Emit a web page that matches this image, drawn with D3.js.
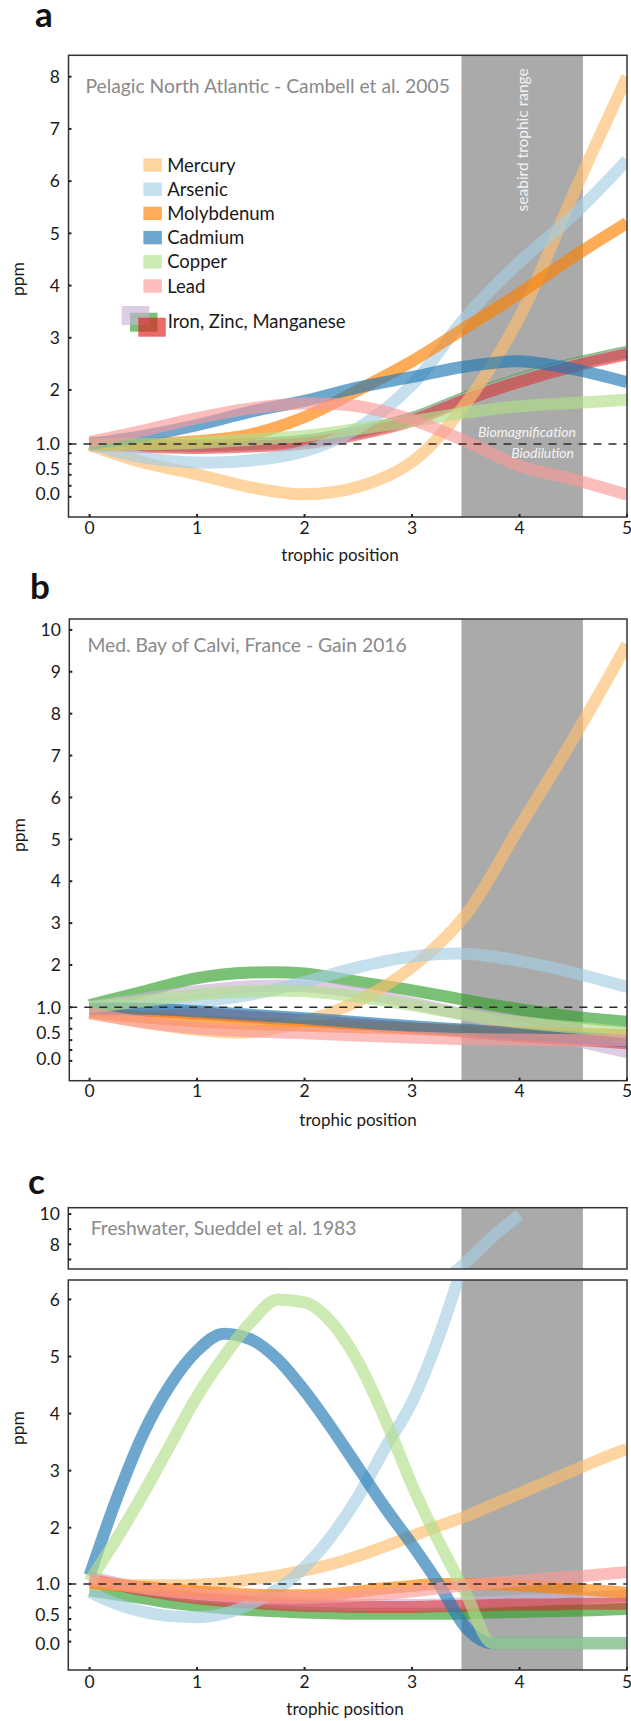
<!DOCTYPE html>
<html>
<head>
<meta charset="utf-8">
<script src="https://cdn.jsdelivr.net/npm/d3@7"></script>
<style>
  body { margin: 0; background: #fff; }
  svg text { font-family: Lato, "Open Sans", sans-serif; }
</style>
</head>
<body>
<svg id="chart" width="631" height="1721"></svg>
<script>
// ---------- data ----------
const metals = ["Mercury", "Arsenic", "Molybdenum", "Cadmium", "Copper", "Lead", "Iron", "Zinc", "Manganese"];
const metalColors = ["#fdbf6f", "#a6cee3", "#ff7f00", "#1f78b4", "#b2df8a", "#fb9a99", "#cab2d6", "#33a02c", "#e31a1c"];
const lineOpacity = [0.65, 0.65, 0.65, 0.65, 0.65, 0.65, 0.65, 0.65, 0.5];
const legendMetals = ["Mercury", "Arsenic", "Molybdenum", "Cadmium", "Copper", "Lead"];
const groupedSwatchOrder = ["Zinc", "Iron", "Manganese"];
const groupedSwatchOffsets = [[8.3, 6.7], [0, 0], [16.6, 11.7]];
const groupedLabel = "Iron, Zinc, Manganese";
// drawing order (grouped metals sit underneath)
const drawOrder = ["Zinc", "Iron", "Manganese", "Mercury", "Arsenic", "Molybdenum", "Cadmium", "Copper", "Lead"];

const xTicks = [0, 1, 2, 3, 4, 5];
const seabirdRange = [3.46, 4.59];

// trophic positions sampled
const tHalf = [0, 0.5, 1, 1.5, 2, 2.5, 3, 3.5, 4, 4.5, 5];
const tQuarter = [0, 0.25, 0.5, 0.75, 1, 1.25, 1.5, 1.75, 2, 2.25, 2.5, 2.75, 3, 3.25, 3.5, 3.75, 4, 4.25, 4.5, 4.75, 5];

// (a) Pelagic North Atlantic
const atlMercury    = [0.98, 0.62, 0.38, 0.12, -0.02, 0.13, 0.63, 1.75, 3.4, 5.75, 8.0];
const atlArsenic    = [1.0, 0.72, 0.62, 0.66, 0.85, 1.3, 2.1, 3.4, 4.45, 5.35, 6.4];
const atlMolybdenum = [1.0, 1.0, 1.05, 1.18, 1.5, 2.0, 2.55, 3.2, 3.85, 4.55, 5.2];
const atlCadmium    = [1.0, 1.15, 1.35, 1.6, 1.8, 2.05, 2.25, 2.45, 2.55, 2.4, 2.15];
const atlCopper     = [1.0, 1.0, 1.02, 1.08, 1.15, 1.28, 1.42, 1.58, 1.7, 1.76, 1.82];
const atlLead       = [1.04, 1.25, 1.48, 1.66, 1.75, 1.7, 1.45, 1.05, 0.55, 0.28, -0.03];
const atlIron       = [1.0, 0.97, 0.95, 0.98, 1.04, 1.21, 1.46, 1.85, 2.19, 2.48, 2.71];
const atlZinc       = [1.02, 0.99, 0.97, 1.0, 1.06, 1.23, 1.48, 1.87, 2.21, 2.5, 2.73];
const atlManganese  = [0.97, 0.94, 0.92, 0.95, 1.01, 1.18, 1.43, 1.82, 2.16, 2.45, 2.68];

// (b) Mediterranean, Bay of Calvi
const medMercury    = [0.9, 0.7, 0.55, 0.5, 0.72, 1.15, 1.95, 3.2, 5.3, 7.4, 9.65];
const medArsenic    = [1.0, 1.06, 1.13, 1.3, 1.6, 1.95, 2.2, 2.27, 2.1, 1.82, 1.48];
const medMolybdenum = [0.9, 0.8, 0.72, 0.67, 0.63, 0.6, 0.57, 0.53, 0.5, 0.47, 0.45];
const medCadmium    = [0.97, 0.97, 0.92, 0.85, 0.78, 0.7, 0.62, 0.55, 0.47, 0.4, 0.33];
const medCopper     = [1.0, 1.15, 1.3, 1.38, 1.38, 1.25, 1.05, 0.85, 0.7, 0.6, 0.5];
const medLead       = [0.88, 0.7, 0.58, 0.52, 0.48, 0.44, 0.4, 0.37, 0.36, 0.35, 0.35];
const medIron       = [1.0, 1.2, 1.38, 1.5, 1.5, 1.35, 1.1, 0.85, 0.6, 0.35, 0.12];
const medZinc       = [1.05, 1.37, 1.69, 1.82, 1.8, 1.6, 1.4, 1.17, 0.96, 0.81, 0.71];
const medManganese  = [0.93, 0.93, 0.88, 0.81, 0.74, 0.66, 0.58, 0.51, 0.43, 0.36, 0.29];

// (c) Freshwater (arsenic runs off the top of the axis after trophic position 4)
const fwMercury    = [1.0, 0.99, 0.98, 0.98, 0.99, 1.02, 1.08, 1.15, 1.24, 1.35, 1.5, 1.67, 1.85, 2.03, 2.2, 2.4, 2.6, 2.8, 3.0, 3.2, 3.38];
const fwArsenic    = [0.87, 0.68, 0.55, 0.48, 0.46, 0.52, 0.68, 0.92, 1.3, 1.85, 2.55, 3.4, 4.2, 5.35, 6.8, 8.5, 9.95, null, null, null, null];
const fwMolybdenum = [1.02, 0.98, 0.95, 0.91, 0.88, 0.85, 0.83, 0.82, 0.82, 0.84, 0.88, 0.93, 0.97, 1.0, 1.0, 1.0, 0.98, 0.95, 0.92, 0.89, 0.86];
const fwCadmium    = [1.15, 2.5, 3.65, 4.5, 5.1, 5.4, 5.3, 4.95, 4.4, 3.75, 3.05, 2.35, 1.7, 1.0, 0.28, 0, 0, 0, 0, 0, 0];
const fwCopper     = [1.05, 1.8, 2.6, 3.45, 4.3, 5.0, 5.6, 6.0, 5.95, 5.6, 4.9, 3.9, 2.75, 1.75, 0.85, 0, 0, 0, 0, 0, 0];
const fwLead       = [1.08, 1.0, 0.93, 0.88, 0.84, 0.81, 0.79, 0.78, 0.78, 0.79, 0.81, 0.84, 0.88, 0.93, 0.98, 1.02, 1.06, 1.1, 1.13, 1.17, 1.21];
const fwIron       = [1.12, 1.02, 0.93, 0.86, 0.8, 0.76, 0.73, 0.7, 0.68, 0.67, 0.66, 0.66, 0.66, 0.67, 0.69, 0.71, 0.73, 0.75, 0.77, 0.79, 0.81];
const fwZinc       = [0.9, 0.83, 0.77, 0.7, 0.65, 0.61, 0.58, 0.56, 0.54, 0.53, 0.52, 0.52, 0.52, 0.52, 0.53, 0.54, 0.55, 0.56, 0.57, 0.58, 0.6];
const fwManganese  = [1.08, 0.99, 0.9, 0.83, 0.77, 0.73, 0.7, 0.67, 0.65, 0.64, 0.63, 0.63, 0.63, 0.64, 0.65, 0.66, 0.67, 0.67, 0.68, 0.68, 0.68];

// y axis tick values (lower part of each axis is stretched)
const atlTickLabels = [0, 0.5, 1, 2, 3, 4, 5, 6, 7, 8];
const atlTickMarks = [1, 2, 3, 4, 5, 6, 7, 8];
const atlMinorTicks = [0.81, 0.59, 0.37, 0.15, -0.07];
const medTickLabels = [0, 0.5, 1, 2, 3, 4, 5, 6, 7, 8, 9, 10];
const medTickMarks = [1, 2, 3, 4, 5, 6, 7, 8, 9, 10];
const medMinorTicks = [0.78, 0.57, 0.35, 0.16, -0.05];
const fwTickLabels = [0, 0.5, 1, 2, 3, 4, 5, 6];
const fwTickMarks = [1, 2, 3, 4, 5, 6];
const fwMinorTicks = [0.81, 0.62, 0.43, 0.24, 0.03];
const fwUpperTickLabels = [8, 10];
const fwUpperTickMarks = [7, 8, 9, 10];

// ---------- layout ----------
const svg = d3.select("#chart");
const X0 = 89.6, X5 = 627;
const x = d3.scaleLinear().domain([0, 5]).range([X0, X5]);
const SWATCH_ALPHA = 0.65;
const colorOf = d3.scaleOrdinal().domain(metals).range(metalColors);
const opacityOf = d3.scaleOrdinal().domain(metals).range(lineOpacity);
const fmtTick = v => (v < 2 ? d3.format(".1f")(v) : d3.format("d")(v));

function seriesOf(names, tArr, arrays) {
  const m = {};
  names.forEach((n, i) => { m[n] = tArr.map((t, j) => [t, arrays[i][j]]); });
  return m;
}

const panels = [
  {
    id: "a", letter: "a", letterPos: [35, 27],
    title: "Pelagic North Atlantic - Cambell et al. 2005", titlePos: [85.4, 93],
    left: 68.5, curve: d3.curveCatmullRom.alpha(0.5),
    series: seriesOf(metals, tHalf, [atlMercury, atlArsenic, atlMolybdenum, atlCadmium, atlCopper, atlLead, atlIron, atlZinc, atlManganese]),
    frames: [{
      top: 55.3, bottom: 517,
      domain: [-0.47, 0, 0.5, 1, 2, 8.41], range: [517, 493.3, 468.3, 444, 390, 55.3],
      labels: atlTickLabels, marks: atlTickMarks, minors: atlMinorTicks, dashed: true, xAxis: true
    }],
    ppm: [24, 279], xLabel: [340, 561], xTickBase: 533.5,
    seabirdText: true, magText: true, legend: true
  },
  {
    id: "b", letter: "b", letterPos: [30, 599],
    title: "Med. Bay of Calvi, France - Gain 2016", titlePos: [87.4, 652],
    left: 69.3, curve: d3.curveCatmullRom.alpha(0.5),
    series: seriesOf(metals, tHalf, [medMercury, medArsenic, medMolybdenum, medCadmium, medCopper, medLead, medIron, medZinc, medManganese]),
    frames: [{
      top: 619, bottom: 1080.7,
      domain: [-0.43, 0, 0.5, 1, 2, 10.26], range: [1080.7, 1058.3, 1032.3, 1007.3, 965, 619],
      labels: medTickLabels, marks: medTickMarks, minors: medMinorTicks, dashed: true, xAxis: true
    }],
    ppm: [25, 835], xLabel: [358, 1126], xTickBase: 1097
  },
  {
    id: "c", letter: "c", letterPos: [28, 1194],
    title: "Freshwater, Sueddel et al. 1983", titlePos: [90.7, 1235],
    left: 68.3, curve: d3.curveMonotoneX,
    series: seriesOf(metals, tQuarter, [fwMercury, fwArsenic, fwMolybdenum, fwCadmium, fwCopper, fwLead, fwIron, fwZinc, fwManganese]),
    frames: [
      {
        top: 1207.7, bottom: 1269,
        domain: [6.37, 10.42], range: [1269, 1207.7],
        labels: fwUpperTickLabels, marks: fwUpperTickMarks, minors: [], dashed: false, xAxis: false
      },
      {
        top: 1280, bottom: 1670,
        domain: [-0.46, 0, 0.5, 1, 2, 6.34], range: [1670, 1643.3, 1615, 1584, 1527.7, 1280],
        labels: fwTickLabels, marks: fwTickMarks, minors: fwMinorTicks, dashed: true, xAxis: true
      }
    ],
    ppm: [24, 1428], xLabel: [345, 1715], xTickBase: 1688
  }
];

const defs = svg.append("defs");

panels.forEach(p => {
  const g = svg.append("g").attr("class", "panel-" + p.id);

  p.frames.forEach((f, fi) => {
    const y = d3.scaleLinear().domain(f.domain).range(f.range);
    const clipId = `clip-${p.id}-${fi}`;
    defs.append("clipPath").attr("id", clipId)
      .append("rect")
      .attr("x", p.left).attr("y", f.top)
      .attr("width", X5 - p.left).attr("height", f.bottom - f.top);

    const fg = g.append("g");

    // seabird trophic range band
    fg.append("rect")
      .attr("x", x(seabirdRange[0])).attr("y", f.top)
      .attr("width", x(seabirdRange[1]) - x(seabirdRange[0]))
      .attr("height", f.bottom - f.top)
      .attr("fill", "#aaaaaa");

    if (p.seabirdText) {
      fg.append("text")
        .attr("transform", `translate(${(x(seabirdRange[0]) + x(seabirdRange[1])) / 2 + 5.5},${f.top + 13}) rotate(-90)`)
        .attr("text-anchor", "end")
        .attr("font-size", 15.5)
        .attr("fill", "#f2f2f2")
        .text("seabird trophic range");
    }

    // metal curves
    const line = d3.line()
      .defined(d => d[1] != null)
      .x(d => x(d[0])).y(d => y(d[1]))
      .curve(p.curve);
    const lines = fg.append("g").attr("clip-path", `url(#${clipId})`);
    drawOrder.forEach(name => {
      lines.append("path")
        .datum(p.series[name])
        .attr("d", line)
        .attr("fill", "none")
        .attr("stroke", colorOf(name))
        .attr("stroke-opacity", opacityOf(name))
        .attr("stroke-width", 12);
    });

    // reference line at ppm = 1
    if (f.dashed) {
      fg.append("line")
        .attr("x1", p.left).attr("x2", X5)
        .attr("y1", y(1)).attr("y2", y(1))
        .attr("stroke", "#2b2b2b").attr("stroke-width", 1.6)
        .attr("stroke-dasharray", "8,7");
    }

    if (p.magText) {
      const bx = x(seabirdRange[1]) - 7;
      fg.append("text").attr("x", bx).attr("y", y(1) - 7.5)
        .attr("text-anchor", "end").attr("font-size", 14).attr("font-style", "italic")
        .attr("fill", "#f4f4f4").text("Biomagnification");
      fg.append("text").attr("x", bx - 2).attr("y", y(1) + 14)
        .attr("text-anchor", "end").attr("font-size", 14).attr("font-style", "italic")
        .attr("fill", "#f4f4f4").text("Biodilution");
    }

    // frame
    fg.append("rect")
      .attr("x", p.left).attr("y", f.top)
      .attr("width", X5 - p.left).attr("height", f.bottom - f.top)
      .attr("fill", "none").attr("stroke", "#333").attr("stroke-width", 1.5);

    // y ticks
    fg.selectAll(null).data(f.marks.concat(f.minors)).join("line")
      .attr("x1", p.left).attr("x2", p.left + 3)
      .attr("y1", d => y(d)).attr("y2", d => y(d))
      .attr("stroke", "#222").attr("stroke-width", 2);
    fg.selectAll(null).data(f.labels).join("text")
      .attr("x", p.left - 8.5).attr("y", d => y(d) + 6.2)
      .attr("text-anchor", "end").attr("font-size", 17.5).attr("fill", "#1a1a1a")
      .text(fmtTick);

    // x axis
    if (f.xAxis) {
      fg.selectAll(null).data(xTicks).join("line")
        .attr("x1", d => x(d)).attr("x2", d => x(d))
        .attr("y1", f.bottom).attr("y2", f.bottom - 3)
        .attr("stroke", "#222").attr("stroke-width", 2);
      fg.selectAll(null).data(xTicks).join("text")
        .attr("x", d => x(d)).attr("y", p.xTickBase)
        .attr("text-anchor", "middle").attr("font-size", 17.5).attr("fill", "#1a1a1a")
        .text(d => d);
    }
  });

  // panel letter, title, axis titles
  g.append("text").attr("x", p.letterPos[0]).attr("y", p.letterPos[1])
    .attr("font-size", 35).attr("font-weight", "bold").attr("fill", "#111").text(p.letter);
  g.append("text").attr("x", p.titlePos[0]).attr("y", p.titlePos[1])
    .attr("font-size", 19.3).attr("fill", "#8a8a8a").text(p.title);
  g.append("text")
    .attr("transform", `translate(${p.ppm[0]},${p.ppm[1]}) rotate(-90)`)
    .attr("text-anchor", "middle").attr("font-size", 17.5).attr("fill", "#1a1a1a").text("ppm");
  g.append("text").attr("x", p.xLabel[0]).attr("y", p.xLabel[1])
    .attr("text-anchor", "middle").attr("font-size", 17).attr("fill", "#1a1a1a").text("trophic position");

  // legend
  if (p.legend) {
    const lg = g.append("g");
    const rowY = d3.scaleLinear().domain([0, legendMetals.length - 1]).range([165, 286]);
    legendMetals.forEach((name, i) => {
      lg.append("rect")
        .attr("x", 143.4).attr("y", rowY(i) - 6.7).attr("width", 18.5).attr("height", 13.4)
        .attr("fill", colorOf(name)).attr("fill-opacity", SWATCH_ALPHA);
      lg.append("text").attr("x", 167.2).attr("y", rowY(i) + 6.5)
        .attr("font-size", 18.5).attr("fill", "#1a1a1a").text(name);
    });
    groupedSwatchOrder.forEach((name, i) => {
      lg.append("rect")
        .attr("x", 121.7 + groupedSwatchOffsets[i][0]).attr("y", 306 + groupedSwatchOffsets[i][1])
        .attr("width", 27.5).attr("height", 19)
        .attr("fill", colorOf(name)).attr("fill-opacity", SWATCH_ALPHA);
    });
    lg.append("text").attr("x", 167.7).attr("y", 328)
      .attr("font-size", 18.5).attr("fill", "#1a1a1a").text(groupedLabel);
  }
});
</script>
</body>
</html>
